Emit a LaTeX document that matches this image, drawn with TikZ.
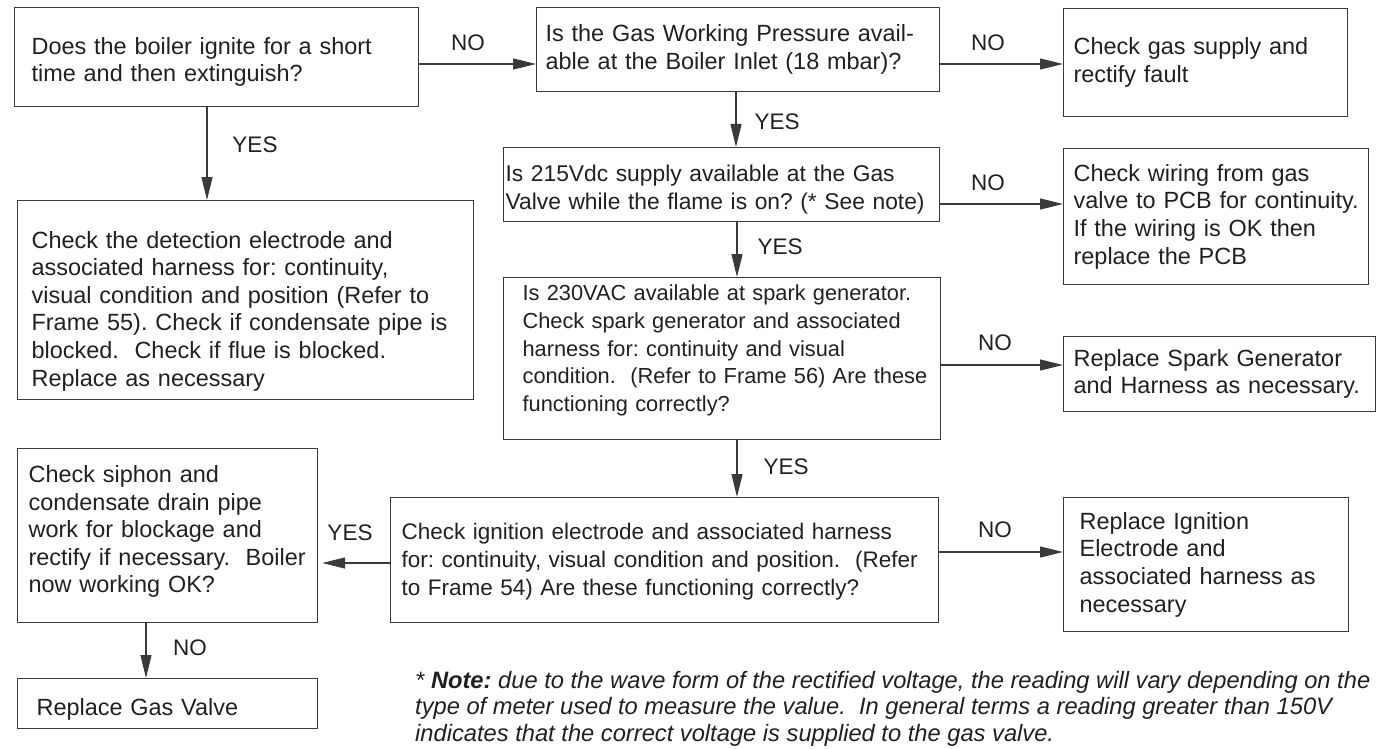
\documentclass[tikz,border=0pt]{standalone}
\usepackage{fontspec}
\setmainfont{Liberation Sans}
\usetikzlibrary{arrows.meta}
\definecolor{ink}{HTML}{231F20}
\definecolor{rulec}{HTML}{3A3A3A}
\frenchspacing
\newcommand{\boxfont}{\fontsize{23.45pt}{27.6pt}\selectfont}
\newcommand{\lblfont}{\fontsize{22.5pt}{26pt}\selectfont}
\newcommand{\topgap}[1]{\rule{0pt}{#1}}
\newcommand{\botgap}[1]{\rule[-#1]{0pt}{#1}}
\tikzset{
  fbox/.style={draw=rulec, line width=1.2pt, rectangle, anchor=north west,
    align=left, inner ysep=0pt, text=ink, font=\boxfont},
  lbl/.style={inner sep=0pt, text=ink, font=\lblfont},
  arr/.style={draw=rulec, line width=1.2pt, -{Triangle[length=23pt,width=11pt]}}
}
\begin{document}
\begin{tikzpicture}[x=1pt,y=-1pt]
\useasboundingbox (0,0) rectangle (1383,749);

\node[fbox, minimum width=404pt, minimum height=99pt, text width=370pt, inner xsep=17pt] (A) at (14,7)
  {\topgap{27pt}\mbox{Does the boiler ignite for a short}\\\mbox{time and then extinguish?}};
\node[fbox, minimum width=403pt, minimum height=84pt, text width=385pt, inner xsep=9pt] (B) at (536,7)
  {\mbox{Is the Gas Working Pressure avail-}\\\mbox{able at the Boiler Inlet (18 mbar)?}};
\node[fbox, minimum width=284pt, minimum height=108pt, text width=264pt, inner xsep=10pt] (C) at (1063,8)
  {\mbox{Check gas supply and}\\\mbox{rectify fault}};
\node[fbox, minimum width=436pt, minimum height=74pt, text width=432pt, inner xsep=2pt,
  font=\fontsize{22.8pt}{27.6pt}\selectfont] (D) at (503,147)
  {\topgap{26.5pt}\mbox{Is 215Vdc supply available at the Gas}\\\mbox{Valve while the flame is on? (* See note)}};
\node[fbox, minimum width=456pt, minimum height=199pt, text width=428pt, inner xsep=14pt] (E) at (17,200)
  {\topgap{39pt}\mbox{Check the detection electrode and}\\\mbox{associated harness for: continuity,}\\\mbox{visual condition and position (Refer to}\\\mbox{Frame 55). Check if condensate pipe is}\\\mbox{blocked.\ \ Check if flue is blocked.}\\\mbox{Replace as necessary}};
\node[fbox, minimum width=305pt, minimum height=136pt, text width=285pt, inner xsep=10pt] (F) at (1063,148)
  {\mbox{Check wiring from gas}\\\mbox{valve to PCB for continuity.}\\\mbox{If the wiring is OK then}\\\mbox{replace the PCB}};
\node[fbox, minimum width=437pt, minimum height=162pt, text width=399pt, inner xsep=19pt,
  font=\fontsize{21.8pt}{27.6pt}\selectfont] (G) at (503,277)
  {\mbox{Is 230VAC available at spark generator.}\\\mbox{Check spark generator and associated}\\\mbox{harness for: continuity and visual}\\\mbox{condition.\ \ (Refer to Frame 56) Are these}\\\mbox{functioning correctly?}\botgap{21pt}};
\node[fbox, minimum width=312pt, minimum height=75pt, text width=292pt, inner xsep=10pt] (H) at (1063,336)
  {\mbox{Replace Spark Generator}\\\mbox{and Harness as necessary.}};
\node[fbox, minimum width=548pt, minimum height=125pt, text width=526pt, inner xsep=11pt,
  font=\fontsize{22.5pt}{28pt}\selectfont] (I) at (390,497)
  {\topgap{19pt}\mbox{Check ignition electrode and associated harness}\\\mbox{for: continuity, visual condition and position.\ \ (Refer}\\\mbox{to Frame 54) Are these functioning correctly?}};
\node[fbox, minimum width=300pt, minimum height=174pt, text width=278pt, inner xsep=11pt] (J) at (17,448)
  {\mbox{Check siphon and}\\\mbox{condensate drain pipe}\\\mbox{work for blockage and}\\\mbox{rectify if necessary.\ \ Boiler}\\\mbox{now working OK?}\botgap{13pt}};
\node[fbox, minimum width=300pt, minimum height=50pt, text width=262pt, inner xsep=19pt] (K) at (17,678)
  {\topgap{29pt}\mbox{Replace Gas Valve}};
\node[fbox, minimum width=285pt, minimum height=134pt, text width=253pt, inner xsep=16pt] (L) at (1063,497)
  {\mbox{Replace Ignition}\\\mbox{Electrode and}\\\mbox{associated harness as}\\\mbox{necessary}};

% connectors
\draw[arr] (A.east |- 0,64) -- (B.west |- 0,64);
\draw[arr] (B.east |- 0,64) -- (C.west |- 0,64);
\draw[arr] (A.south -| 207,0) -- (E.north -| 207,0);
\draw[arr] (B.south -| 736,0) -- (D.north -| 736,0);
\draw[arr] (D.east |- 0,204) -- (F.west |- 0,204);
\draw[arr] (D.south -| 737,0) -- (G.north -| 737,0);
\draw[arr] (G.east |- 0,365) -- (H.west |- 0,365);
\draw[arr] (G.south -| 737,0) -- (I.north -| 737,0);
\draw[arr] (I.east |- 0,552) -- (L.west |- 0,552);
\draw[arr, shorten >=4pt] (I.west |- 0,563) -- (J.east |- 0,563);
\draw[arr] (J.south -| 146,0) -- (K.north -| 146,0);

% labels
\node[lbl] (n1) at (468,43) {NO};
\node[lbl] (n2) at (988,43) {NO};
\node[lbl] (y1) at (255,145) {YES};
\node[lbl] (y2) at (777,122) {YES};
\node[lbl] (n3) at (988,183) {NO};
\node[lbl] (y3) at (780,247) {YES};
\node[lbl] (n4) at (995,343) {NO};
\node[lbl] (y4) at (786,467) {YES};
\node[lbl] (n5) at (995,530) {NO};
\node[lbl] (y5) at (350,533) {YES};
\node[lbl] (n6) at (190,648) {NO};

% note
\node[anchor=north west, inner sep=0pt, align=left, text=ink,
  font=\fontsize{23.7pt}{26.5pt}\selectfont\itshape] (note) at (415,671)
  {* \textbf{Note:} due to the wave form of the rectified voltage, the reading will vary depending on the\\
   type of meter used to measure the value.\ \ In general terms a reading greater than 150V\\
   indicates that the correct voltage is supplied to the gas valve.};
\end{tikzpicture}
\end{document}
